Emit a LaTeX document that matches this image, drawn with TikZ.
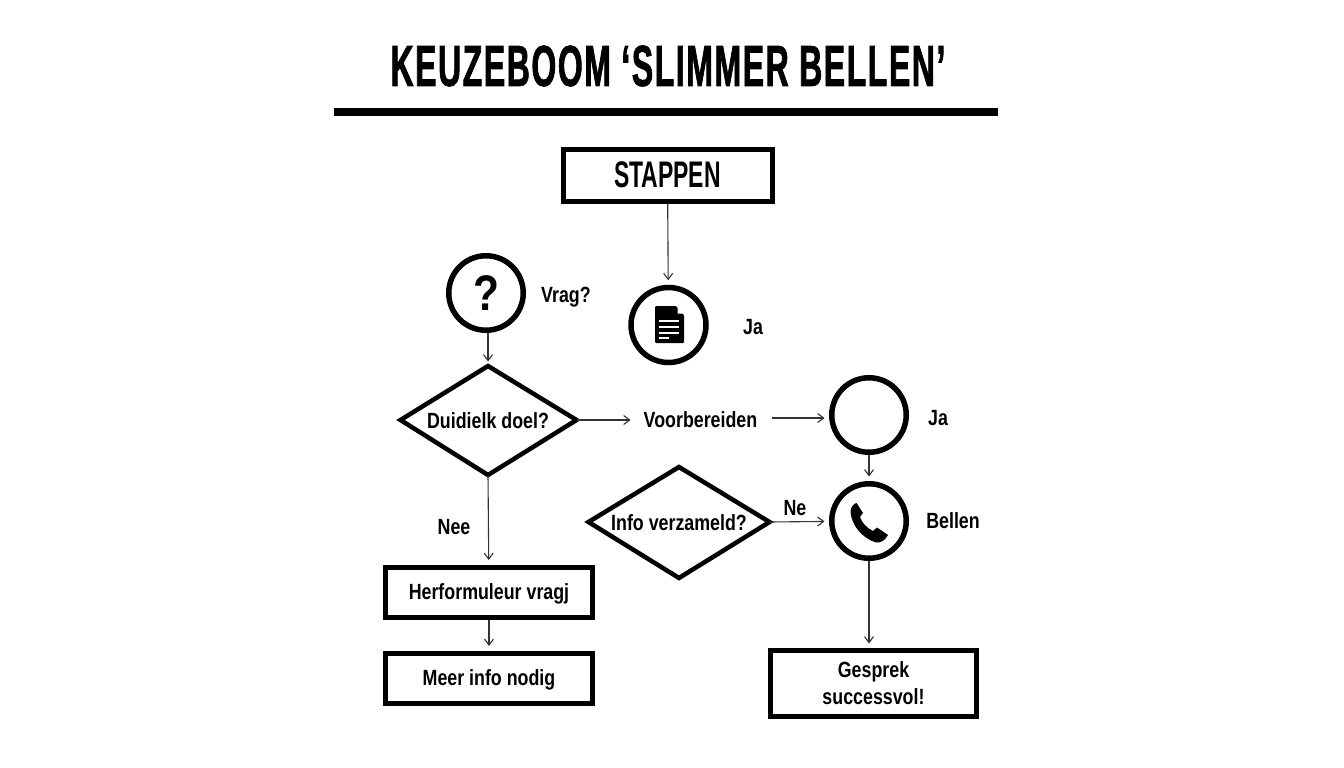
\documentclass[tikz,border=0pt]{standalone}
\usepackage{fontspec}
\usepackage{tikz}
\usetikzlibrary{arrows.meta}
\setmainfont{Liberation Sans}
\newfontfamily\TitleFont[FakeStretch=.55,LetterSpace=2.8,FakeBold=1.2]{Liberation Sans}
\newfontfamily\SignFont[FakeStretch=.62]{Liberation Sans}
\newfontfamily\MarkFont[FakeStretch=.85]{Liberation Sans}
\newfontfamily\LabelFont[FakeStretch=.81]{Liberation Sans}
\tikzstyle{TextLabel}=[inner sep=0pt,font=\LabelFont\bfseries\fontsize{22}{27}\selectfont,align=center]
\tikzstyle{NodeBox}=[TextLabel,draw=black,line width=5pt,minimum height=50pt]
\tikzstyle{NodeLine}=[NodeBox,text height=18pt,text depth=3pt]
\tikzstyle{NodeRound}=[circle,draw=black,line width=5.5pt,fill=white,inner sep=0pt,minimum size=74.5pt]
\tikzstyle{NodeChoice}=[draw=black,line width=4.5pt,line join=miter]
\tikzstyle{EdgeFlow}=[black!80,line width=1.1pt,shorten >=4.5pt,-{Straight Barb[length=6pt,width=9pt]}]

\begin{document}
\begin{tikzpicture}[x=1pt,y=-1pt]
        \useasboundingbox(0,0)rectangle(1344,768);
        \node[inner sep=0pt,font=\TitleFont\bfseries\fontsize{58}{60}\selectfont](title)at(668,66){KEUZEBOOM ‘SLIMMER BELLEN’};
        \fill(334,108)rectangle(998,116);
        \node[NodeBox,minimum width=209pt,minimum height=52pt,font=\SignFont\bfseries\fontsize{37}{38}\selectfont](stappen)at(667.5,175){STAPPEN};
        \node[NodeRound,font=\MarkFont\bfseries\fontsize{50}{52}\selectfont](vraag)at(486,293){?};
        \node[NodeRound,minimum size=75pt](doc)at(668.5,325){};
        \node[TextLabel](vraaglabel)at(566,297){Vrag?};
        \node[TextLabel](jaA)at(753,327){Ja};
        \coordinate(dT)at(488,366);\coordinate(dR)at(576.5,420);\coordinate(dB)at(488,475);\coordinate(dL)at(400.5,420);
        \draw[NodeChoice](dT)--(dR)--(dB)--(dL)--cycle;
        \node[TextLabel](doel)at(488,421){Duidielk doel?};
        \node[TextLabel,inner xsep=8.5pt](voorb)at(700.5,420){Voorbereiden};
        \node[NodeRound](leeg)at(869,415){};
        \node[TextLabel](jaB)at(938,418){Ja};
        \node[NodeRound](bel)at(869,521){};
        \node[TextLabel](bellen)at(953,521){Bellen};
        \coordinate(iT)at(679,467);\coordinate(iR)at(769.5,522);\coordinate(iB)at(679,578);\coordinate(iL)at(588.5,522);
        \draw[NodeChoice](iT)--(iR)--(iB)--(iL)--cycle;
        \node[TextLabel](info)at(679,523){Info verzameld?};
        \node[TextLabel](ne)at(795,508){Ne};
        \node[TextLabel](nee)at(454,527){Nee};
        \node[NodeLine,minimum width=207pt](herf)at(489,592){Herformuleur vragj};
        \node[NodeLine,minimum width=207pt](meer)at(489,678){Meer info nodig};
        \node[NodeBox,minimum width=206pt,minimum height=66pt](gesprek)at(873.5,683.5){Gesprek\\successvol!};
        % document icon
        \fill[rounded corners=1pt](655,306)--(676,306)--(684,315)--(684,343)--(655,343)--cycle;
        \fill[white](677.5,306)--(684.5,313.5)--(677.5,313.5)--cycle;
        \foreach \y/\e in {321/679,327/679,333/679,338/669}
            \draw[white,line width=1.3pt](659,\y)--(\e,\y);
        % phone icon
        \fill(856.5,503)--(863,513)--(860,517)..controls(862,523)and(867,528)..(873,531)--(877,527.5)--(888,535)..controls(885,541)and(880,543)..(876,542.5)..controls(862,538)and(851,525)..(850.5,511)..controls(851,507)and(853,504)..(856.5,503)--cycle;
        % connectors
        \coordinate(voorbOut)at([xshift=6pt]voorb.east|-0,418);
        \coordinate(leegIn)at(leeg.west|-0,418);
        \draw[EdgeFlow](stappen)--(doc);
        \draw[EdgeFlow](vraag.south-|dT)--(dT);
        \draw[EdgeFlow](dR)--(voorb);
        \draw[EdgeFlow](voorbOut)--(leegIn);
        \draw[EdgeFlow](leeg)--(bel);
        \draw[EdgeFlow](iR)--(bel);
        \draw[EdgeFlow](bel)--(bel|-gesprek.north);
        \draw[EdgeFlow](dB)--(herf);
        \draw[EdgeFlow](herf)--(meer);
    \end{tikzpicture}
\end{document}
